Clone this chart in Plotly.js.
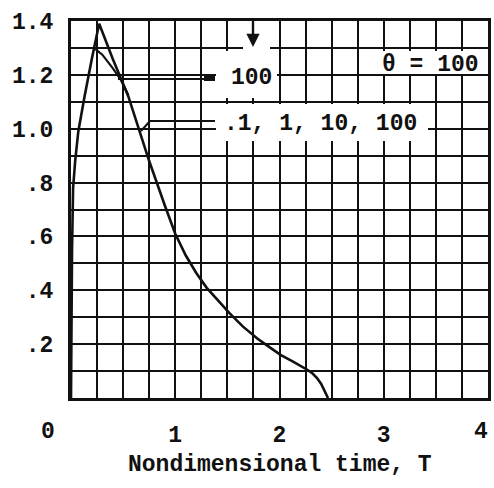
<!DOCTYPE html>
<html>
<head>
<meta charset="utf-8">
<script src="https://cdn.plot.ly/plotly-3.0.1.min.js"></script>
<style>html,body{margin:0;padding:0;background:#fff;}#chart{width:494px;height:488px;}</style>
</head>
<body>
<div id="chart"></div>
<script>
// ---- data ----
var tMain = [0, 0.004, 0.01, 0.02, 0.04, 0.07, 0.1, 0.13, 0.2, 0.25, 0.27, 0.3, 0.4, 0.55, 0.75, 0.9, 1.0, 1.1, 1.2, 1.3, 1.4, 1.52, 1.65, 1.79, 1.9, 2.01, 2.13, 2.2, 2.27, 2.32, 2.36, 2.4, 2.43, 2.45, 2.465];
var yMain = [0, 0.3, 0.55, 0.78, 0.88, 0.99, 1.06, 1.12, 1.26, 1.35, 1.39, 1.36, 1.26, 1.12, 0.88, 0.715, 0.61, 0.53, 0.465, 0.41, 0.365, 0.315, 0.265, 0.22, 0.19, 0.16, 0.135, 0.12, 0.104, 0.09, 0.074, 0.052, 0.03, 0.012, 0.0];
var t100 = [0.22, 0.3, 0.4, 0.48, 0.55];
var y100 = [1.30, 1.275, 1.225, 1.18, 1.125];
var yTickVals = [0.2, 0.4, 0.6, 0.8, 1.0, 1.2, 1.4];
var yTickText = ['.2', '.4', '.6', '.8', '1.0', '1.2', '1.4'];
var xTickVals = [1, 2, 3];
var xTickText = ['1', '2', '3'];
var labelMain = '.1, 1, 10, 100';
var label100 = '100';
var labelTheta = 'θ = 100';
var xTitle = 'Nondimensional time, T';

// ---- layout helpers (pixel -> data) ----
var L = 71, R = 6, T = 21, B = 90, W = 494, H = 488;
var PW = W - L - R, PH = H - T - B;
var XMAX = 4, YMAX = 1.4;
function X(px) { return (px - L) / PW * XMAX; }
function Y(py) { return (H - B - py) / PH * YMAX; }
function PX(px) { return (px - L) / PW; }
function PY(py) { return (H - B - py) / PH; }

var FONT = 'Liberation Mono, DejaVu Sans Mono, monospace';
var fnt = {family: FONT, size: 23, color: '#111', weight: 'bold'};

var traces = [
  {x: tMain, y: yMain, mode: 'lines', line: {color: '#111', width: 2.6}, hoverinfo: 'skip', showlegend: false},
  {x: t100, y: y100, mode: 'lines', line: {color: '#111', width: 2.2}, hoverinfo: 'skip', showlegend: false}
];

function rect(x0, y0, x1, y1, fill) {
  return {type: 'rect', xref: 'x', yref: 'y', x0: X(x0), x1: X(x1), y0: Y(y0), y1: Y(y1),
          fillcolor: fill || '#fff', line: {width: 0}, layer: 'above'};
}
function seg(x0, y0, x1, y1, w) {
  return {type: 'line', xref: 'x', yref: 'y', x0: X(x0), x1: X(x1), y0: Y(y0), y1: Y(y1),
          line: {color: '#111', width: w || 2}, layer: 'above'};
}

var shapes = [
  rect(216, 51, 277, 98),
  rect(243, 40, 270, 53),
  rect(216, 104, 428, 141),
  rect(368, 51, 486, 74),
  seg(118, 79, 212, 79, 2),
  rect(204, 75, 215, 81, '#111'),
  seg(141, 131, 150, 121, 2),
  seg(150, 121, 215, 121, 2)
];

function ann(text, px, py, size) {
  return {text: text, xref: 'paper', yref: 'paper', x: PX(px), y: PY(py), xanchor: 'center', yanchor: 'middle',
          showarrow: false, font: {family: FONT, size: size || 23, color: '#111', weight: 'bold'}};
}

var annotations = [
  ann('0', 48, 432),
  ann('4', 481, 432),
  ann(xTitle, 280, 465, 23),
  ann(label100, 251, 78, 23),
  ann(labelMain, 320, 124, 23),
  ann(labelTheta, 430, 65, 23),
  {x: X(253), y: Y(47), ax: X(253), ay: Y(20), axref: 'x', ayref: 'y', xref: 'x', yref: 'y',
   text: '', showarrow: true, arrowhead: 2, arrowsize: 1.1, arrowwidth: 2.4, arrowcolor: '#111'}
];

var layout = {
  width: W, height: H,
  margin: {l: L, r: R, t: T, b: B, pad: 0},
  paper_bgcolor: '#fff', plot_bgcolor: '#fff',
  showlegend: false,
  xaxis: {
    range: [0, XMAX], tickmode: 'array', tickvals: xTickVals, ticktext: xTickText,
    showgrid: true, gridcolor: '#111', gridwidth: 2,
    minor: {tickmode: 'linear', tick0: 0, dtick: 0.25, showgrid: true, gridcolor: '#111', gridwidth: 2, ticks: ''},
    showline: true, mirror: true, linecolor: '#111', linewidth: 3,
    zeroline: false, ticks: '', tickfont: fnt, ticklabelstandoff: 13, fixedrange: true
  },
  yaxis: {
    range: [0, YMAX], tickmode: 'array', tickvals: yTickVals, ticktext: yTickText,
    showgrid: true, gridcolor: '#111', gridwidth: 2,
    minor: {tickmode: 'linear', tick0: 0, dtick: 0.1, showgrid: true, gridcolor: '#111', gridwidth: 2, ticks: ''},
    showline: true, mirror: true, linecolor: '#111', linewidth: 3,
    zeroline: false, ticks: '', tickfont: fnt, ticklabelstandoff: 10, fixedrange: true
  },
  shapes: shapes,
  annotations: annotations
};

Plotly.newPlot('chart', traces, layout, {displayModeBar: false, staticPlot: true});
</script>
</body>
</html>
